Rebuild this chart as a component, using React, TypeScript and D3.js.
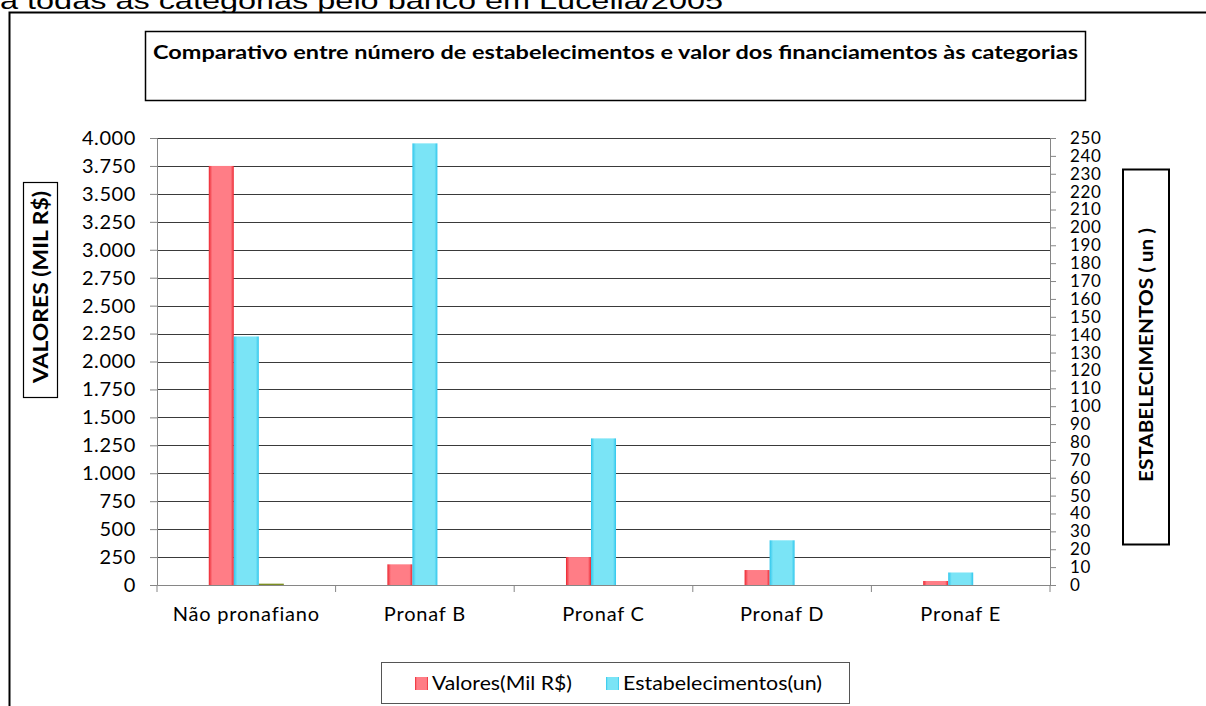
import React, { useEffect, useRef } from 'react'
import * as d3 from 'd3'

// categorias e séries
const categorias = ['Não pronafiano', 'Pronaf B', 'Pronaf C', 'Pronaf D', 'Pronaf E']
const valores = [3750, 185, 250, 134, 36] // Mil R$ (eixo esquerdo)
const estabelecimentos = [139, 247, 82, 25, 7] // un (eixo direito)
const terceira = [12, 0, 0, 0, 0] // série sem legenda, quase zero
const seriesNomes = ['Valores(Mil R$)', 'Estabelecimentos(un)']
const leftTicks = d3.range(0, 4001, 250)
const rightTicks = d3.range(0, 251, 10)

const W = 1206
const H = 706
const FONT = 'Lato, "Noto Sans", sans-serif'

export default function App() {
  const ref = useRef<SVGSVGElement>(null)

  useEffect(() => {
    const svg = d3.select(ref.current)
    svg.selectAll('*').remove()

    const fmt = d3.formatLocale({ decimal: ',', thousands: '.', grouping: [3], currency: ['R$', ''] }).format(',d')

    const left = 157
    const right = 1050
    const top = 138
    const bottom = 585

    const x = d3.scaleBand().domain(categorias).range([left, right]).paddingInner(0).paddingOuter(0)
    const xs = d3.scaleBand().domain(['v', 'e', 't']).range([0, x.bandwidth()]).paddingInner(0).paddingOuter(2.07)
    const yL = d3.scaleLinear().domain([0, 4000]).range([bottom, top])
    const yR = d3.scaleLinear().domain([0, 250]).range([bottom, top])

    const defs = svg.append('defs')
    const grad = (id, edge, mid) => {
      const g = defs.append('linearGradient').attr('id', id).attr('x1', '0%').attr('x2', '100%')
      g.append('stop').attr('offset', '0%').attr('stop-color', edge)
      g.append('stop').attr('offset', '14%').attr('stop-color', mid)
      g.append('stop').attr('offset', '88%').attr('stop-color', mid)
      g.append('stop').attr('offset', '100%').attr('stop-color', edge)
    }
    grad('gRed', '#ec2630', '#ff7d86')
    grad('gCyan', '#2ec6ec', '#7ae4f6')

    // texto de cima, cortado
    svg.append('text')
      .attr('x', 0).attr('y', 9)
      .attr('font-family', '"Liberation Sans", Arial, sans-serif')
      .attr('font-size', 24)
      .attr('textLength', 723).attr('lengthAdjust', 'spacingAndGlyphs')
      .text('a todas as categorias pelo banco em Lucélia/2005')

    // moldura
    svg.append('rect')
      .attr('x', 9.5).attr('y', 12.5).attr('width', W + 20).attr('height', H + 20)
      .attr('fill', 'white').attr('stroke', '#000').attr('stroke-width', 2)

    // título
    svg.append('rect')
      .attr('x', 145.5).attr('y', 31.5).attr('width', 940).attr('height', 69)
      .attr('fill', 'none').attr('stroke', '#000').attr('stroke-width', 1.5)
    svg.append('text')
      .attr('x', 153).attr('y', 59)
      .attr('font-family', FONT).attr('font-weight', 'bold').attr('font-size', 19)
      .attr('textLength', 925).attr('lengthAdjust', 'spacingAndGlyphs')
      .text('Comparativo entre número de estabelecimentos e valor dos financiamentos às categorias')

    // grade
    svg.append('g').selectAll('line').data(leftTicks.filter((d) => d > 0)).join('line')
      .attr('x1', left).attr('x2', right)
      .attr('y1', (d) => Math.round(yL(d)) + 0.5).attr('y2', (d) => Math.round(yL(d)) + 0.5)
      .attr('stroke', '#3a3a3a').attr('stroke-width', 1)

    // eixo esquerdo
    const gL = svg.append('g').attr('transform', `translate(${left},0)`)
      .call(d3.axisLeft(yL).tickValues(leftTicks).tickSize(7).tickPadding(14).tickFormat((d) => fmt(d)))
    gL.select('.domain').attr('stroke', '#868686')
    gL.selectAll('.tick line').attr('stroke', '#868686')
    gL.selectAll('text').attr('font-family', FONT).attr('font-size', 20).attr('letter-spacing', 0.6).attr('fill', '#000')

    // eixo direito (rótulos densos, como no original)
    const gR = svg.append('g').attr('transform', `translate(${right},0)`)
      .call(d3.axisRight(yR).tickValues(rightTicks).tickSize(6).tickPadding(14))
    gR.select('.domain').attr('stroke', '#868686')
    gR.selectAll('.tick line').attr('stroke', '#868686')
    gR.selectAll('text').attr('font-family', FONT).attr('font-size', 17).attr('letter-spacing', 0.6).attr('fill', '#000')

    // eixo x
    const gX = svg.append('g').attr('transform', `translate(0,${bottom})`)
      .call(d3.axisBottom(x).tickSize(0).tickPadding(22))
    gX.select('.domain').attr('stroke', '#868686')
    gX.selectAll('text').attr('font-family', FONT).attr('font-size', 20).attr('letter-spacing', 0.8).attr('fill', '#000')
    svg.append('g').selectAll('line').data(d3.range(categorias.length + 1)).join('line')
      .attr('x1', (i) => left + i * x.step()).attr('x2', (i) => left + i * x.step())
      .attr('y1', bottom).attr('y2', bottom + 7)
      .attr('stroke', '#868686')

    // barras
    const bars = svg.append('g')
    categorias.forEach((c, i) => {
      const x0 = x(c)
      bars.append('rect')
        .attr('x', x0 + xs('v')).attr('width', xs.bandwidth())
        .attr('y', yL(valores[i])).attr('height', bottom - yL(valores[i]))
        .attr('fill', 'url(#gRed)')
      bars.append('rect')
        .attr('x', x0 + xs('e')).attr('width', xs.bandwidth())
        .attr('y', yR(estabelecimentos[i])).attr('height', bottom - yR(estabelecimentos[i]))
        .attr('fill', 'url(#gCyan)')
      if (terceira[i] > 0) {
        bars.append('rect')
          .attr('x', x0 + xs('t')).attr('width', xs.bandwidth())
          .attr('y', yL(terceira[i])).attr('height', bottom - yL(terceira[i]))
          .attr('fill', '#7d8f22')
      }
    })

    // títulos dos eixos
    svg.append('rect').attr('x', 23.5).attr('y', 182.5).attr('width', 34).attr('height', 215)
      .attr('fill', 'none').attr('stroke', '#000').attr('stroke-width', 1.2)
    svg.append('text')
      .attr('transform', 'translate(48,287) rotate(-90)')
      .attr('text-anchor', 'middle')
      .attr('font-family', FONT).attr('font-weight', 'bold').attr('font-size', 20)
      .attr('textLength', 192).attr('lengthAdjust', 'spacingAndGlyphs')
      .text('VALORES  (MIL R$)')

    svg.append('rect').attr('x', 1123).attr('y', 169.5).attr('width', 46).attr('height', 375)
      .attr('fill', 'none').attr('stroke', '#000').attr('stroke-width', 2)
    svg.append('text')
      .attr('transform', 'translate(1153,355) rotate(-90)')
      .attr('text-anchor', 'middle')
      .attr('font-family', FONT).attr('font-weight', 'bold').attr('font-size', 19)
      .attr('textLength', 254).attr('lengthAdjust', 'spacingAndGlyphs')
      .text('ESTABELECIMENTOS ( un )')

    // legenda
    svg.append('rect').attr('x', 381.5).attr('y', 662.5).attr('width', 468).attr('height', 41)
      .attr('fill', 'white').attr('stroke', '#555').attr('stroke-width', 1)
    const leg = [
      { nome: seriesNomes[0], fill: 'url(#gRed)', x: 415, w: 140 },
      { nome: seriesNomes[1], fill: 'url(#gCyan)', x: 606, w: 199 },
    ]
    leg.forEach((l) => {
      svg.append('rect').attr('x', l.x).attr('y', 677).attr('width', 13).attr('height', 13).attr('fill', l.fill)
      svg.append('text').attr('x', l.x + 17).attr('y', 690)
        .attr('font-family', FONT).attr('font-size', 19)
        .attr('textLength', l.w).attr('lengthAdjust', 'spacingAndGlyphs')
        .text(l.nome)
    })
  }, [])

  return (
    <svg ref={ref} width={W} height={H} style={{ position: 'absolute', left: 0, top: 0, background: 'white' }} />
  )
}
